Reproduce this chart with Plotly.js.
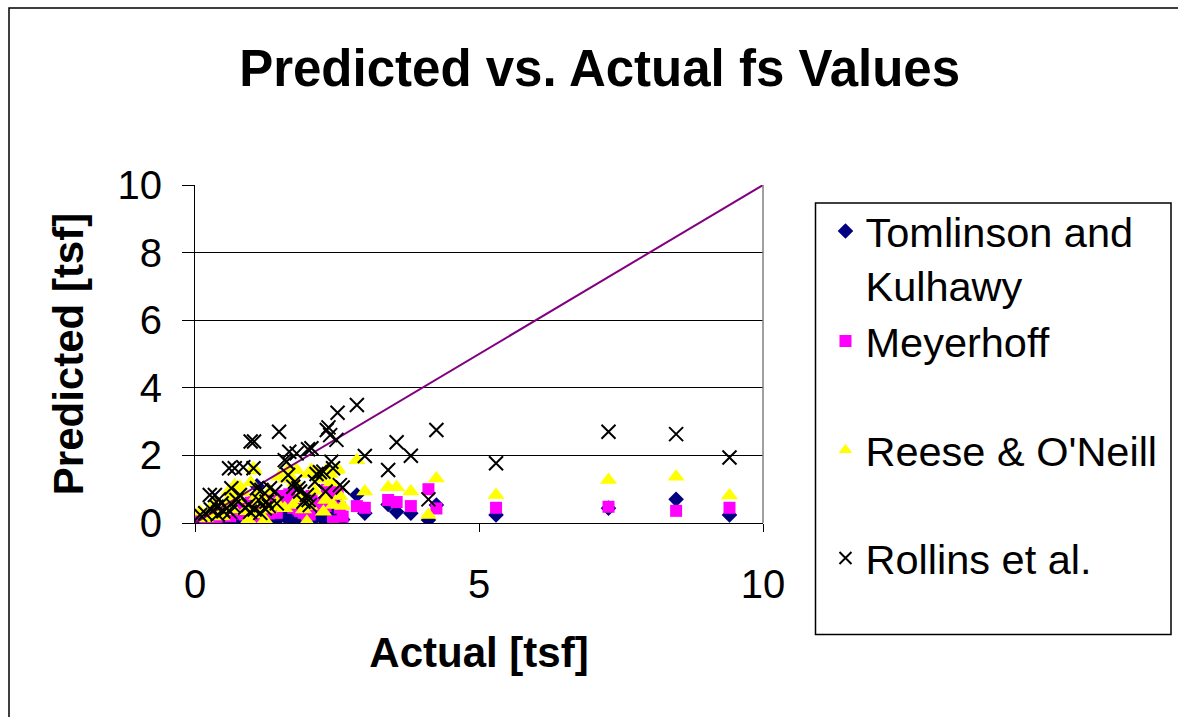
<!DOCTYPE html>
<html>
<head>
<meta charset="utf-8">
<script src="https://cdn.plot.ly/plotly-3.0.1.min.js"></script>
<style>
  html, body { margin: 0; padding: 0; background: #fff; }
  #chart { width: 1178px; height: 717px; }
</style>
</head>
<body>
<div id="chart"></div>
<script>
// Measured side friction (tsf) for each test, and the value predicted by each method
const actual = [
  0.09, 0.18, 0.26, 0.28, 0.35, 0.38, 0.40, 0.42, 0.47, 0.50,
  0.56, 0.60, 0.62, 0.64, 0.68, 0.70, 0.73, 0.79, 0.85, 0.88,
  0.94, 0.97, 0.98, 1.03, 1.04, 1.05, 1.09, 1.12, 1.15, 1.17,
  1.23, 1.26, 1.30, 1.32, 1.41, 1.44, 1.48, 1.58, 1.61, 1.64,
  1.66, 1.73, 1.76, 1.79, 1.82, 1.85, 1.91, 1.97, 1.99, 2.00,
  2.02, 2.05, 2.11, 2.14, 2.20, 2.26, 2.30, 2.32, 2.35, 2.38,
  2.40, 2.43, 2.49, 2.51, 2.55, 2.60, 2.85, 2.99, 3.40, 3.55,
  3.80, 4.11, 4.25, 5.30, 7.28, 8.47, 9.41
];
const tomlinsonKulhawy = [
  0.05, 0.08, 0.12, 0.06, 0.10, 0.06, 0.05, 0.12, 0.10, 0.08,
  0.05, 0.20, 0.12, 0.10, 0.07, 0.15, 0.08, 0.12, 0.20, 0.06,
  0.06, 0.10, 0.30, 0.25, 0.35, 0.08, 1.10, 0.12, 0.05, 0.20,
  0.09, 0.10, 0.07, 0.15, 0.18, 0.08, 0.30, 0.25, 0.15, 0.20,
  0.30, 0.10, 0.12, 0.25, 0.15, 0.10, 0.08, 0.05, 0.30, 0.10,
  0.08, 0.35, 0.15, 0.20, 0.25, 0.10, 0.15, 0.40, 0.30, 0.35,
  0.20, 0.06, 0.45, 0.50, 0.20, 0.10, 0.83, 0.29, 0.55, 0.33,
  0.29, 0.09, 0.53, 0.24, 0.44, 0.70, 0.24
];
const meyerhoff = [
  0.24, 0.15, 0.22, 0.18, 0.30, 0.18, 0.20, 0.30, 0.25, 0.22,
  0.35, 0.45, 0.20, 0.40, 0.28, 0.50, 0.73, 0.30, 0.55, 0.25,
  0.25, 0.20, 0.60, 0.50, 0.65, 0.22, 0.50, 0.35, 0.18, 0.40,
  0.68, 0.30, 0.28, 0.55, 0.45, 0.30, 0.80, 0.70, 0.65, 0.50,
  0.85, 0.45, 0.60, 0.68, 0.40, 0.35, 0.30, 0.25, 0.75, 0.45,
  0.25, 0.80, 0.50, 0.55, 0.60, 0.45, 0.50, 0.98, 0.90, 0.98,
  0.60, 0.05, 0.85, 0.90, 0.45, 0.19, 0.50, 0.45, 0.68, 0.62,
  0.50, 1.00, 0.43, 0.45, 0.48, 0.36, 0.45
];
const reeseONeill = [
  0.33, 0.14, 0.40, 0.30, 0.55, 0.25, 0.22, 0.45, 0.19, 0.35,
  0.60, 0.95, 0.45, 0.80, 0.40, 1.12, 0.70, 1.07, 0.90, 0.35,
  0.09, 0.35, 1.20, 1.62, 1.55, 0.30, 0.80, 0.60, 0.25, 0.75,
  0.09, 0.50, 0.40, 0.95, 0.48, 0.60, 1.37, 0.44, 1.30, 1.57,
  1.40, 0.53, 1.20, 1.57, 0.70, 0.80, 0.40, 0.04, 1.45, 0.55,
  0.50, 1.57, 0.95, 1.47, 1.30, 0.33, 0.68, 1.57, 1.50, 1.45,
  1.20, 0.53, 1.57, 1.60, 0.80, 0.50, 1.86, 0.93, 1.06, 1.06,
  0.93, 0.24, 1.32, 0.83, 1.27, 1.37, 0.81
];
const rollinsEtAl = [
  0.24, 0.29, 0.83, 0.40, 0.83, 0.48, 0.25, 0.70, 0.58, 0.35,
  0.43, 1.62, 0.33, 1.03, 0.50, 1.62, 0.68, 0.83, 1.65, 0.45,
  0.53, 0.33, 2.41, 1.62, 2.41, 0.40, 1.03, 0.68, 0.30, 0.98,
  0.43, 0.63, 0.50, 1.03, 0.93, 0.58, 2.70, 1.86, 1.81, 1.42,
  2.11, 1.07, 1.22, 2.06, 1.03, 0.93, 0.63, 0.83, 2.18, 0.68,
  0.53, 2.21, 1.22, 1.45, 1.50, 1.52, 0.93, 2.75, 2.83, 2.60,
  1.81, 1.62, 2.46, 3.26, 1.12, 1.05, 3.49, 1.98, 1.57, 2.39,
  1.99, 0.70, 2.75, 1.77, 2.70, 2.63, 1.94
];

// Line of equality (predicted = actual)
const equalityX = [0, 10];
const equalityY = [0, 10];

const seriesNames = ["Tomlinson and<br>Kulhawy", "Meyerhoff", "Reese & O'Neill", "Rollins et al."];
const xTickVals = [0, 5, 10];
const yTickVals = [0, 2, 4, 6, 8, 10];

const FONT = '"Liberation Sans", Arial, sans-serif';

const traces = [
  {
    x: actual, y: tomlinsonKulhawy, name: seriesNames[0], type: 'scatter', mode: 'markers',
    marker: { symbol: 'diamond', size: 12, color: '#000080' },
    legend: 'legend'
  },
  {
    x: actual, y: meyerhoff, name: seriesNames[1], type: 'scatter', mode: 'markers',
    marker: { symbol: 'square', size: 12, color: '#FF00FF' },
    legend: 'legend2'
  },
  {
    x: actual, y: reeseONeill, name: seriesNames[2], type: 'scatter', mode: 'markers',
    marker: { symbol: 'triangle-up', size: 15, color: '#FFFF00' },
    legend: 'legend3'
  },
  {
    x: equalityX, y: equalityY, type: 'scatter', mode: 'lines',
    line: { color: '#800080', width: 2 }, showlegend: false, hoverinfo: 'skip'
  },
  {
    x: actual, y: rollinsEtAl, name: seriesNames[3], type: 'scatter', mode: 'markers',
    marker: { symbol: 'x-thin-open', size: 14, color: '#000000', line: { color: '#000000', width: 2 } },
    legend: 'legend4'
  }
];

// Plot area spans 568 x 338 px; legend entries are placed relative to it
const legendBase = {
  bgcolor: 'rgba(0,0,0,0)', borderwidth: 0, xanchor: 'left',
  font: { family: FONT, size: 41.5, color: '#000' }, itemsizing: 'constant'
};
const legendX = 1.11;

const layout = {
  width: 1178, height: 717,
  paper_bgcolor: '#ffffff', plot_bgcolor: '#ffffff',
  margin: { l: 195, r: 415, t: 185, b: 194, pad: 0, autoexpand: false },
  font: { family: FONT, color: '#000' },
  title: {
    text: '<b>Predicted vs. Actual fs Values</b>',
    font: { family: FONT, size: 51, color: '#000' },
    xref: 'container', x: 0.509, xanchor: 'center',
    yref: 'container', y: 0.905, yanchor: 'middle'
  },
  xaxis: {
    range: [0, 10], tickvals: xTickVals, ticktext: xTickVals.map(String),
    showgrid: false, zeroline: false,
    showline: true, linecolor: '#000', linewidth: 1,
    ticks: 'outside', ticklen: 8, tickcolor: '#000', tickwidth: 1,
    ticklabelstandoff: 18,
    tickfont: { family: FONT, size: 40, color: '#000' },
    title: { text: '<b>Actual [tsf]</b>', font: { family: FONT, size: 42, color: '#000' }, standoff: 32 },
    fixedrange: true
  },
  yaxis: {
    range: [0, 10], tickvals: yTickVals, ticktext: yTickVals.map(String),
    showgrid: true, gridcolor: '#000', gridwidth: 1, zeroline: false,
    showline: true, linecolor: '#000', linewidth: 1,
    ticks: 'outside', ticklen: 12, tickcolor: '#000', tickwidth: 1,
    ticklabelstandoff: 12,
    tickfont: { family: FONT, size: 40, color: '#000' },
    title: { text: '<b>Predicted [tsf]</b>', font: { family: FONT, size: 42, color: '#000' }, standoff: 20 },
    fixedrange: true
  },
  shapes: [
    // right edge of plot area
    { type: 'line', xref: 'paper', yref: 'paper', x0: 1, x1: 1, y0: 0, y1: 1,
      line: { color: '#808080', width: 1.5 } },
    // legend frame
    { type: 'rect', xref: 'paper', yref: 'paper',
      x0: (815.5 - 195) / 568, x1: (1171 - 195) / 568,
      y0: (523 - 634.5) / 338, y1: (523 - 203) / 338,
      line: { color: '#000', width: 1.5 }, fillcolor: 'rgba(0,0,0,0)' },
    // chart frame
    { type: 'rect', xref: 'paper', yref: 'paper',
      x0: (9 - 195) / 568, x1: 3,
      y0: -3, y1: (523 - 8) / 338,
      line: { color: '#000', width: 1.5 }, fillcolor: 'rgba(0,0,0,0)' }
  ],
  legend:  Object.assign({}, legendBase, { x: legendX, y: (523 - 258) / 338, yanchor: 'middle', valign: 'top' }),
  legend2: Object.assign({}, legendBase, { x: legendX, y: (523 - 341) / 338, yanchor: 'middle' }),
  legend3: Object.assign({}, legendBase, { x: legendX, y: (523 - 450) / 338, yanchor: 'middle' }),
  legend4: Object.assign({}, legendBase, { x: legendX, y: (523 - 558) / 338, yanchor: 'middle' }),
  showlegend: true
};

Plotly.newPlot('chart', traces, layout, { staticPlot: true, displayModeBar: false });
</script>
</body>
</html>
